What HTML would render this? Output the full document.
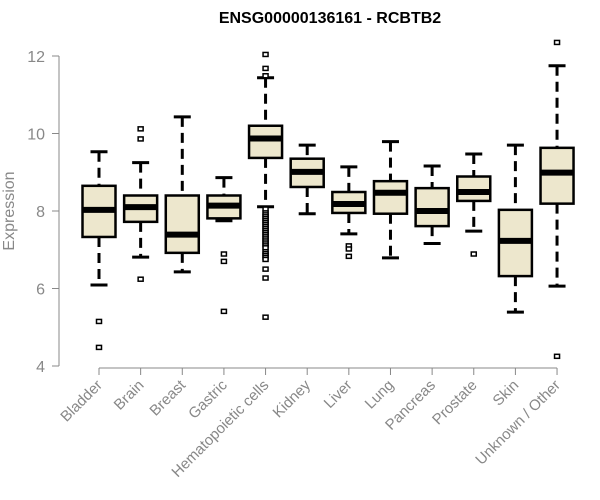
<!DOCTYPE html>
<html><head><meta charset="utf-8">
<style>
html,body{margin:0;padding:0;background:#fff;}
svg{display:block;font-family:"Liberation Sans",Arial,sans-serif;}
</style></head>
<body>
<svg id="chart" width="600" height="500">
<text x="330" y="23" text-anchor="middle" font-size="16" font-weight="bold">ENSG00000136161 - RCBTB2</text>
<text transform="translate(14,211) rotate(-90)" text-anchor="middle" font-size="16" fill="#888">Expression</text>
<g id="plot"></g>
</svg>
<script>
const categories=["Bladder","Brain","Breast","Gastric","Hematopoietic cells","Kidney","Liver","Lung","Pancreas","Prostate","Skin","Unknown / Other"];
const whiskerLow=[6.09,6.81,6.43,7.75,8.11,7.93,7.41,6.79,7.16,7.48,5.39,6.06];
const q1=[7.33,7.72,6.92,7.81,9.37,8.62,7.95,7.93,7.61,8.26,6.32,8.19];
const medians=[8.03,8.10,7.39,8.14,9.87,9.01,8.18,8.47,8.00,8.49,7.23,8.99];
const q3=[8.65,8.40,8.40,8.40,10.20,9.35,8.49,8.77,8.59,8.89,8.03,9.63];
const whiskerHigh=[9.53,9.25,10.43,8.86,11.44,9.70,9.14,9.79,9.16,9.47,9.70,11.75];
const outliers=[[5.15,4.48],[10.12,9.86,6.24],[],[6.89,6.70,5.41],
[12.04,11.68,11.49,8.05,7.95,7.9,7.85,7.8,7.75,7.7,7.65,7.6,7.55,7.5,7.45,7.4,7.35,7.3,7.25,7.2,7.15,7.1,7.05,6.95,6.9,6.85,6.8,6.75,6.5,6.27,5.26],
[],[7.10,7.02,6.83],[],[],[6.89],[],[12.35,4.25]];
const yTicks=[4,6,8,10,12];

const NS="http://www.w3.org/2000/svg";
const g=document.getElementById('plot');
function y(v){return 366-(v-4)*38.75;}
function x(i){return 99+i*41.64;}
function mk(t,a){const e=document.createElementNS(NS,t);for(const k in a)e.setAttribute(k,a[k]);g.appendChild(e);return e;}
const gray="#888";
let ax=mk('line',{x1:59,x2:59,y1:y(12),y2:y(4),stroke:gray,'stroke-width':1});


yTicks.forEach(t=>{
  let l=mk('line',{x1:52,x2:59,y1:y(t),y2:y(t),stroke:gray});
  
  
  let tx=mk('text',{x:45,y:y(t)+6,'text-anchor':'end','font-size':16,fill:gray});
  tx.textContent=t;
  
  
});
let xa=mk('line',{x1:x(0),x2:x(11),y1:368,y2:368,stroke:gray});


categories.forEach((c,i)=>{
  const cx=x(i);
  let tk=mk('line',{x1:cx,x2:cx,y1:368,y2:375,stroke:gray});
  
  
  let lb=mk('text',{x:0,y:0,'text-anchor':'end','font-size':15,fill:gray,transform:`translate(${cx+4},${386}) rotate(-45)`});
  lb.textContent=c;
  
  
  const bg=document.createElementNS(NS,'g');g.appendChild(bg);
  
  
  function add(t,a){const e=document.createElementNS(NS,t);for(const k in a)e.setAttribute(k,a[k]);bg.appendChild(e);return e;}
  add('line',{x1:cx,x2:cx,y1:y(whiskerHigh[i]),y2:y(q3[i]),stroke:'#000','stroke-width':3,'stroke-dasharray':'10,6'});
  add('line',{x1:cx,x2:cx,y1:y(q1[i]),y2:y(whiskerLow[i]),stroke:'#000','stroke-width':3,'stroke-dasharray':'10,6'});
  add('line',{x1:cx-8.5,x2:cx+8.5,y1:y(whiskerHigh[i]),y2:y(whiskerHigh[i]),stroke:'#000','stroke-width':3});
  add('line',{x1:cx-8.5,x2:cx+8.5,y1:y(whiskerLow[i]),y2:y(whiskerLow[i]),stroke:'#000','stroke-width':3});
  add('rect',{x:cx-16.5,y:y(q3[i]),width:33,height:y(q1[i])-y(q3[i]),fill:'#ede7cd',stroke:'#000','stroke-width':2.5});
  add('line',{x1:cx-16.5,x2:cx+16.5,y1:y(medians[i]),y2:y(medians[i]),stroke:'#000','stroke-width':6});
  outliers[i].forEach(v=>{
    let o=mk('rect',{x:cx-2.5,y:y(v)-2,width:5,height:4,fill:'#fff',stroke:'#000','stroke-width':1.5});
    
    
  });
});
</script>
</body></html>
